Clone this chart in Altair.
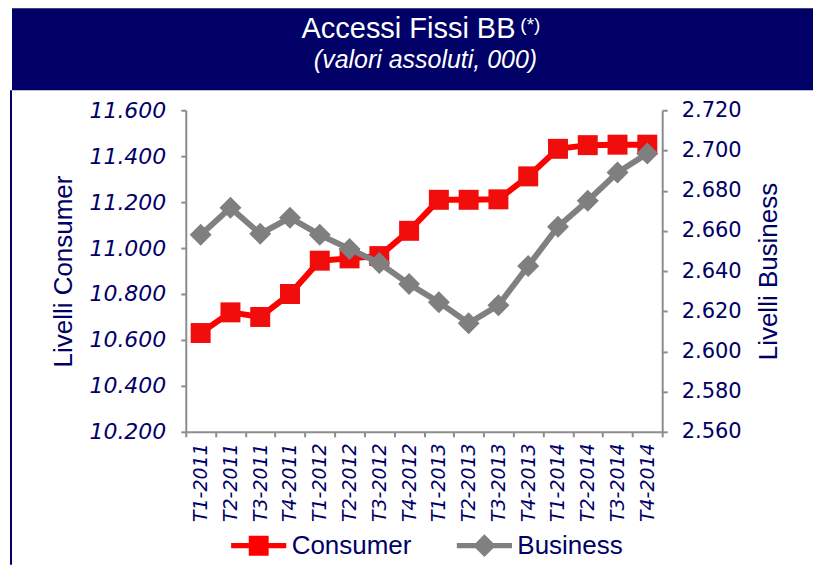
import altair as alt
import pandas as pd

categories = ['T1-2011', 'T2-2011', 'T3-2011', 'T4-2011',
              'T1-2012', 'T2-2012', 'T3-2012', 'T4-2012',
              'T1-2013', 'T2-2013', 'T3-2013', 'T4-2013',
              'T1-2014', 'T2-2014', 'T3-2014', 'T4-2014']
consumer = [10630, 10720, 10700, 10800, 10945, 10955, 10965, 11075,
            11210, 11210, 11212, 11312, 11432, 11448, 11450, 11450]
business = [2658, 2671.5, 2658.5, 2666.5, 2658, 2651, 2644, 2633.5,
            2624.5, 2614, 2623, 2642.5, 2662, 2675, 2689, 2698.5]
series = ['Consumer', 'Business']
left_ticks = [10200, 10400, 10600, 10800, 11000, 11200, 11400, 11600]
right_ticks = [2560, 2580, 2600, 2620, 2640, 2660, 2680, 2700, 2720]
title_text = ['Accessi Fissi BB']
title_note = ['(*)']
subtitle_text = ['(valori assoluti, 000)']

NAVY = '#000066'
RED = '#ff0000'
GRAY = '#808080'
AXIS_GRAY = '#8c8c8c'
LABEL_EXPR = "replace(format(datum.value, ','), ',', '.')"

df = pd.DataFrame({'cat': categories, 'consumer': consumer, 'business': business})
legend_df = pd.DataFrame({'serie': series})

x_enc = alt.X('cat:N', sort=categories, bandPosition=0.5,
              scale=alt.Scale(type='band', paddingInner=0, paddingOuter=0),
              axis=alt.Axis(title=None, labelAngle=-90, labelFont='DejaVu Sans',
                            labelFontStyle='italic', labelFontSize=19,
                            labelColor=NAVY, labelPadding=6, tickBand='extent',
                            tickSize=5))

y_cons = alt.Y('consumer:Q',
               scale=alt.Scale(domain=[10200, 11600], nice=False, zero=False),
               axis=alt.Axis(orient='left', values=left_ticks, labelExpr=LABEL_EXPR,
                             labelFont='DejaVu Sans', labelFontStyle='italic',
                             labelFontSize=22, labelColor=NAVY, labelPadding=15,
                             tickSize=5, title='Livelli Consumer',
                             titleFont='Liberation Sans', titleFontSize=26,
                             titleFontWeight='normal', titleColor=NAVY,
                             titlePadding=12))

y_bus = alt.Y('business:Q',
              scale=alt.Scale(domain=[2560, 2720], nice=False, zero=False),
              axis=alt.Axis(orient='right', values=right_ticks, labelExpr=LABEL_EXPR,
                            labelFont='DejaVu Sans', labelFontSize=21,
                            labelColor=NAVY, labelPadding=14, tickSize=5,
                            title='Livelli Business', titleFont='Liberation Sans',
                            titleFontSize=26, titleFontWeight='normal',
                            titleColor=NAVY, titlePadding=14, titleAngle=270,
                            titleBaseline='top'))

base = alt.Chart(df)

cons_line = base.mark_line(color=RED, strokeWidth=6).encode(x=x_enc, y=y_cons)
cons_pts = base.mark_point(shape='square', filled=True, size=400, opacity=1,
                           color='#f20d0d').encode(x=x_enc, y=y_cons)

path_c = ('M-2.3,-0.22H2.3V0.22H-2.3Z '
          'M-0.83,-0.83H0.83V0.83H-0.83Z')
path_b = ('M-2.3,-0.22H2.3V0.22H-2.3Z '
          'M0,-0.95L0.95,0L0,0.95L-0.95,0Z')

leg = alt.Legend(title=None, orient='none', legendX=60, legendY=423,
                 direction='horizontal', symbolSize=576, symbolStrokeWidth=0,
                 symbolOpacity=1, labelOffset=20, columnPadding=45, padding=0,
                 labelFont='Liberation Sans', labelFontSize=26, labelColor=NAVY)

legend_layer = alt.Chart(legend_df).mark_point(filled=True, size=0).encode(
    x=alt.value(0), y=alt.value(0),
    color=alt.Color('serie:N', scale=alt.Scale(domain=series, range=[RED, GRAY]),
                    legend=leg),
    shape=alt.Shape('serie:N', scale=alt.Scale(domain=series, range=[path_c, path_b]),
                    legend=leg),
)

cons_layer = alt.layer(cons_line, cons_pts, legend_layer)

bus_line = base.mark_line(color=GRAY, strokeWidth=6).encode(x=x_enc, y=y_bus)
bus_pts = base.mark_point(shape='diamond', filled=True, size=484, opacity=1,
                          color='#7f7f7f').encode(x=x_enc, y=y_bus)
bus_layer = alt.layer(bus_line, bus_pts)

data_layer = alt.layer(cons_layer, bus_layer).resolve_scale(y='independent')

# title banner (decoration placed relative to the plot area)
banner_rect = alt.Chart(pd.DataFrame({'t': title_text})).mark_rect(
    color=NAVY).encode(x=alt.value(-174), x2=alt.value(628),
                       y=alt.value(-102), y2=alt.value(-20))
frame_rule = alt.Chart(pd.DataFrame({'t': title_text})).mark_rule(
    color=NAVY, strokeWidth=2).encode(x=alt.value(-175), y=alt.value(-20),
                                      y2=alt.value(455))
t1 = alt.Chart(pd.DataFrame({'t': title_text})).mark_text(
    font='Liberation Sans', fontSize=29, color='white', align='center',
    baseline='alphabetic').encode(text='t:N', x=alt.value(223), y=alt.value(-72))
t2 = alt.Chart(pd.DataFrame({'t': title_note})).mark_text(
    font='Liberation Sans', fontSize=19, color='white', align='left',
    baseline='alphabetic').encode(text='t:N', x=alt.value(335), y=alt.value(-79))
t3 = alt.Chart(pd.DataFrame({'t': subtitle_text})).mark_text(
    font='Liberation Sans', fontSize=25, fontStyle='italic', color='white',
    align='center', baseline='alphabetic').encode(text='t:N', x=alt.value(240),
                                                  y=alt.value(-42))
deco = alt.layer(banner_rect, frame_rule, t1, t2, t3)

chart = alt.layer(deco, data_layer).properties(
    width=477, height=322,
    padding={'left': 2, 'top': 0, 'right': 0, 'bottom': 0}
).configure_view(strokeWidth=0).configure_axis(
    grid=False, domainColor=AXIS_GRAY, tickColor=AXIS_GRAY, domainWidth=2,
    tickWidth=2)

chart.save('out.html', embed_options={'renderer': 'svg', 'actions': False})
